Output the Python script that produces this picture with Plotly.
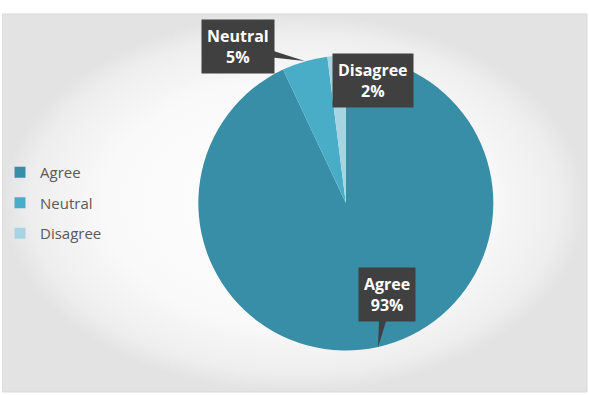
import math
import plotly.graph_objects as go

categories = ["Agree", "Neutral", "Disagree"]
values = [93, 5, 2]
colors = ["#388DA7", "#4AADC8", "#A6D4E2"]
label_offsets = [(9, -53), (-67, -14), (37, 25)]  # box centre relative to slice edge (px)

W, H = 589, 395
CX, CY, R = 345, 203, 148  # pie centre/radius in px
FONT = "Open Sans, Noto Sans, sans-serif"

fig = go.Figure()

# background panel with radial gradient
fig.add_trace(go.Scatter(
    x=[0, 587 / W, 587 / W, 0, 0], y=[1 - 14 / H, 1 - 14 / H, 1 - 392 / H, 1 - 392 / H, 1 - 14 / H],
    mode="lines", fill="toself", line=dict(color="#D9D9D9", width=1),
    fillgradient=dict(type="radial", colorscale=[[0, "#FFFFFF"], [0.65, "#F9F9F9"], [0.9, "#EEEEEE"], [1, "#E3E3E3"]]),
    hoverinfo="skip", showlegend=False,
))

fig.add_trace(go.Pie(
    labels=categories, values=values, sort=False, direction="clockwise", rotation=0,
    marker=dict(colors=colors, line=dict(width=0)), textinfo="none", hoverinfo="label+percent",
    domain=dict(x=[(CX - R) / W, (CX + R) / W], y=[1 - (CY + R) / H, 1 - (CY - R) / H]),
    showlegend=False,
))

# legend entries
for cat, col in zip(categories, colors):
    fig.add_trace(go.Scatter(
        x=[None], y=[None], mode="markers", name=cat, legendgroup=cat,
        marker=dict(symbol="square", size=11, color=col), hoverinfo="skip",
    ))

total = sum(values)
cum = 0
for cat, v, (ox, oy) in zip(categories, values, label_offsets):
    mid = (cum + v / 2) / total * 2 * math.pi
    cum += v
    tx = CX + R * math.sin(mid)
    ty = CY - R * math.cos(mid)
    bx, by = tx + ox, ty + oy
    # callout wedge
    dx, dy = tx - bx, ty - by
    L = math.hypot(dx, dy)
    nx, ny = -dy / L * 7, dx / L * 7
    pts = [(bx + nx, by + ny), (bx - nx, by - ny), (tx, ty)]
    path = "M " + " L ".join(f"{px / W},{1 - py / H}" for px, py in pts) + " Z"
    fig.add_shape(type="path", path=path, xref="paper", yref="paper",
                  fillcolor="#404040", line=dict(width=0), layer="above")
    fig.add_annotation(
        x=bx / W, y=1 - by / H, xref="paper", yref="paper", showarrow=False,
        xanchor="center", yanchor="middle",
        text=f"<b>{cat}<br>{round(v / total * 100)}%</b>",
        font=dict(family=FONT, size=16, color="white"),
        bgcolor="#404040", borderpad=5, align="center",
    )

fig.update_layout(
    width=W, height=H, margin=dict(l=0, r=0, t=0, b=0),
    paper_bgcolor="white", plot_bgcolor="rgba(0,0,0,0)",
    xaxis=dict(visible=False, range=[0, 1], fixedrange=True),
    yaxis=dict(visible=False, range=[0, 1], fixedrange=True),
    legend=dict(x=-0.004, y=1 - 203 / H, xanchor="left", yanchor="middle",
                traceorder="grouped", tracegroupgap=8,
                font=dict(family=FONT, size=15, color="#595959"),
                bgcolor="rgba(0,0,0,0)", itemclick=False, itemdoubleclick=False),
    showlegend=True,
)

fig.write_html("out.html")
